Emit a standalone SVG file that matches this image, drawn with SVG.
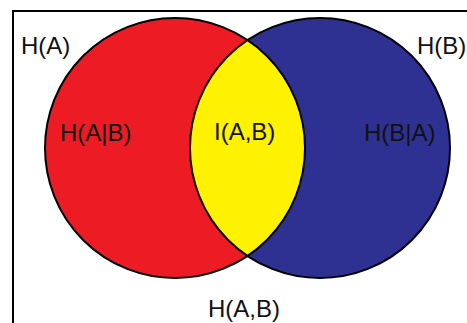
<svg xmlns="http://www.w3.org/2000/svg" width="467" height="323" viewBox="0 0 467 323">
  <style>
    .frame { fill: none; stroke: #000; stroke-width: 2; }
    .outline { fill: none; stroke: #000; stroke-width: 2; }
    .label { font-family: "Liberation Sans", Arial, sans-serif; font-size: 24px; fill: #111; }
  </style>
  <rect width="467" height="323" fill="#fff"/>
  <!-- enclosing joint-entropy box, open past the right and bottom edges -->
  <rect class="frame" x="13" y="11" width="470" height="330"/>

  <g id="setA">
    <circle cx="175" cy="148" r="130" fill="#ED1C24"/>
  </g>
  <g id="setB">
    <circle cx="320" cy="148" r="130" fill="#2E3192"/>
  </g>
  <g id="intersection">
    <path d="M 247.5 40.1 A 130 130 0 0 1 247.5 255.9 A 130 130 0 0 1 247.5 40.1 Z" fill="#FFF200"/>
  </g>
  <g id="outlines">
    <circle class="outline" cx="175" cy="148" r="130"/>
    <circle class="outline" cx="320" cy="148" r="130"/>
  </g>

  <g id="labels">
    <text class="label" x="21" y="54">H(A)</text>
    <text class="label" x="417" y="54">H(B)</text>
    <text class="label" x="60" y="141">H(A|B)</text>
    <text class="label" x="214" y="140">I(A,B)</text>
    <text class="label" x="364" y="141">H(B|A)</text>
    <text class="label" x="208" y="317">H(A,B)</text>
  </g>
</svg>
